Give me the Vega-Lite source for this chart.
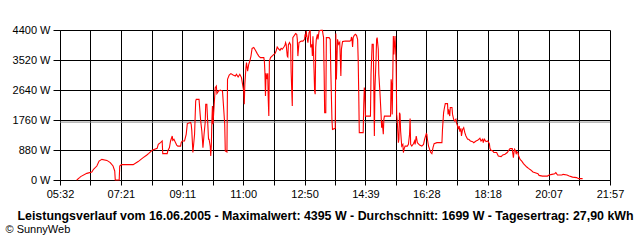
{
  "$schema": "https://vega.github.io/schema/vega-lite/v6.json",
  "width": 550,
  "height": 150,
  "autosize": {"type": "none"},
  "padding": {"left": 60, "top": 30, "right": 30, "bottom": 60},
  "background": "white",
  "config": {
    "view": {"stroke": null},
    "font": "Liberation Sans",
    "axis": {
      "domainColor": "black", "tickColor": "black", "gridColor": "black", "gridOpacity": 1,
      "gridWidth": 1, "domainWidth": 1, "tickWidth": 1,
      "labelColor": "black", "labelFont": "Liberation Sans", "labelFontSize": 11, "labelFontWeight": "normal",
      "titleColor": "black", "titleFont": "Liberation Sans", "labelOverlap": false
    }
  },
  "layer": [
    {
      "data": {"values": [{"watt": 1699}]},
      "mark": {"type": "rule", "color": "#8a8a8a", "strokeWidth": 1},
      "encoding": {"y": {"field": "watt", "type": "quantitative"}}
    },
    {
      "data": {"values": [
        {"time": "2005-06-16 06:02", "watt": 0},
        {"time": "2005-06-16 06:07", "watt": 70},
        {"time": "2005-06-16 06:09", "watt": 100},
        {"time": "2005-06-16 06:20", "watt": 195},
        {"time": "2005-06-16 06:29", "watt": 235},
        {"time": "2005-06-16 06:32", "watt": 315},
        {"time": "2005-06-16 06:38", "watt": 410},
        {"time": "2005-06-16 06:42", "watt": 555},
        {"time": "2005-06-16 06:47", "watt": 605},
        {"time": "2005-06-16 06:56", "watt": 575},
        {"time": "2005-06-16 07:02", "watt": 510},
        {"time": "2005-06-16 07:07", "watt": 410},
        {"time": "2005-06-16 07:10", "watt": 265},
        {"time": "2005-06-16 07:11", "watt": 0},
        {"time": "2005-06-16 07:18", "watt": 0},
        {"time": "2005-06-16 07:19", "watt": 410},
        {"time": "2005-06-16 07:22", "watt": 450},
        {"time": "2005-06-16 07:43", "watt": 450},
        {"time": "2005-06-16 07:52", "watt": 540},
        {"time": "2005-06-16 07:57", "watt": 605},
        {"time": "2005-06-16 08:01", "watt": 655},
        {"time": "2005-06-16 08:07", "watt": 725},
        {"time": "2005-06-16 08:11", "watt": 780},
        {"time": "2005-06-16 08:17", "watt": 870},
        {"time": "2005-06-16 08:26", "watt": 930},
        {"time": "2005-06-16 08:28", "watt": 1045},
        {"time": "2005-06-16 08:32", "watt": 1095},
        {"time": "2005-06-16 08:35", "watt": 1145},
        {"time": "2005-06-16 08:36", "watt": 775},
        {"time": "2005-06-16 08:44", "watt": 775},
        {"time": "2005-06-16 08:45", "watt": 850},
        {"time": "2005-06-16 08:48", "watt": 950},
        {"time": "2005-06-16 08:50", "watt": 1145},
        {"time": "2005-06-16 08:53", "watt": 1290},
        {"time": "2005-06-16 08:54", "watt": 1165},
        {"time": "2005-06-16 08:56", "watt": 1195},
        {"time": "2005-06-16 08:59", "watt": 1095},
        {"time": "2005-06-16 09:01", "watt": 1025},
        {"time": "2005-06-16 09:03", "watt": 995},
        {"time": "2005-06-16 09:08", "watt": 995},
        {"time": "2005-06-16 09:09", "watt": 1095},
        {"time": "2005-06-16 09:11", "watt": 1145},
        {"time": "2005-06-16 09:15", "watt": 1145},
        {"time": "2005-06-16 09:18", "watt": 1340},
        {"time": "2005-06-16 09:20", "watt": 1655},
        {"time": "2005-06-16 09:26", "watt": 1685},
        {"time": "2005-06-16 09:27", "watt": 1635},
        {"time": "2005-06-16 09:28", "watt": 1455},
        {"time": "2005-06-16 09:30", "watt": 805},
        {"time": "2005-06-16 09:33", "watt": 1340},
        {"time": "2005-06-16 09:35", "watt": 2315},
        {"time": "2005-06-16 09:36", "watt": 2365},
        {"time": "2005-06-16 09:41", "watt": 2365},
        {"time": "2005-06-16 09:43", "watt": 1925},
        {"time": "2005-06-16 09:44", "watt": 1730},
        {"time": "2005-06-16 09:46", "watt": 1435},
        {"time": "2005-06-16 09:47", "watt": 1195},
        {"time": "2005-06-16 09:48", "watt": 950},
        {"time": "2005-06-16 09:50", "watt": 1340},
        {"time": "2005-06-16 09:52", "watt": 1685},
        {"time": "2005-06-16 09:53", "watt": 2220},
        {"time": "2005-06-16 09:55", "watt": 2220},
        {"time": "2005-06-16 09:57", "watt": 1535},
        {"time": "2005-06-16 09:58", "watt": 1195},
        {"time": "2005-06-16 09:59", "watt": 1195},
        {"time": "2005-06-16 10:01", "watt": 995},
        {"time": "2005-06-16 10:02", "watt": 705},
        {"time": "2005-06-16 10:03", "watt": 995},
        {"time": "2005-06-16 10:04", "watt": 1730},
        {"time": "2005-06-16 10:05", "watt": 2170},
        {"time": "2005-06-16 10:06", "watt": 1635},
        {"time": "2005-06-16 10:08", "watt": 2170},
        {"time": "2005-06-16 10:10", "watt": 2710},
        {"time": "2005-06-16 10:12", "watt": 2755},
        {"time": "2005-06-16 10:13", "watt": 2535},
        {"time": "2005-06-16 10:16", "watt": 2610},
        {"time": "2005-06-16 10:19", "watt": 2640},
        {"time": "2005-06-16 10:23", "watt": 2610},
        {"time": "2005-06-16 10:25", "watt": 2125},
        {"time": "2005-06-16 10:27", "watt": 1635},
        {"time": "2005-06-16 10:28", "watt": 850},
        {"time": "2005-06-16 10:31", "watt": 820},
        {"time": "2005-06-16 10:32", "watt": 2955},
        {"time": "2005-06-16 10:35", "watt": 3080},
        {"time": "2005-06-16 10:38", "watt": 3120},
        {"time": "2005-06-16 10:42", "watt": 3080},
        {"time": "2005-06-16 10:46", "watt": 3050},
        {"time": "2005-06-16 10:48", "watt": 3100},
        {"time": "2005-06-16 10:51", "watt": 3020},
        {"time": "2005-06-16 10:54", "watt": 3100},
        {"time": "2005-06-16 10:57", "watt": 3005},
        {"time": "2005-06-16 10:59", "watt": 2805},
        {"time": "2005-06-16 11:01", "watt": 2610},
        {"time": "2005-06-16 11:02", "watt": 2220},
        {"time": "2005-06-16 11:03", "watt": 2805},
        {"time": "2005-06-16 11:05", "watt": 3295},
        {"time": "2005-06-16 11:06", "watt": 3445},
        {"time": "2005-06-16 11:08", "watt": 3195},
        {"time": "2005-06-16 11:10", "watt": 3395},
        {"time": "2005-06-16 11:12", "watt": 3490},
        {"time": "2005-06-16 11:14", "watt": 3635},
        {"time": "2005-06-16 11:16", "watt": 3860},
        {"time": "2005-06-16 11:19", "watt": 3885},
        {"time": "2005-06-16 11:22", "watt": 3805},
        {"time": "2005-06-16 11:25", "watt": 3715},
        {"time": "2005-06-16 11:28", "watt": 3635},
        {"time": "2005-06-16 11:31", "watt": 3590},
        {"time": "2005-06-16 11:37", "watt": 3590},
        {"time": "2005-06-16 11:38", "watt": 3490},
        {"time": "2005-06-16 11:39", "watt": 3150},
        {"time": "2005-06-16 11:40", "watt": 2465},
        {"time": "2005-06-16 11:41", "watt": 3130},
        {"time": "2005-06-16 11:43", "watt": 2955},
        {"time": "2005-06-16 11:44", "watt": 3130},
        {"time": "2005-06-16 11:45", "watt": 2335},
        {"time": "2005-06-16 11:46", "watt": 1875},
        {"time": "2005-06-16 11:47", "watt": 3480},
        {"time": "2005-06-16 11:49", "watt": 3590},
        {"time": "2005-06-16 11:55", "watt": 3685},
        {"time": "2005-06-16 11:57", "watt": 3705},
        {"time": "2005-06-16 11:59", "watt": 3785},
        {"time": "2005-06-16 12:01", "watt": 3900},
        {"time": "2005-06-16 12:04", "watt": 3835},
        {"time": "2005-06-16 12:06", "watt": 3805},
        {"time": "2005-06-16 12:08", "watt": 3860},
        {"time": "2005-06-16 12:10", "watt": 3835},
        {"time": "2005-06-16 12:13", "watt": 3900},
        {"time": "2005-06-16 12:15", "watt": 3960},
        {"time": "2005-06-16 12:16", "watt": 4030},
        {"time": "2005-06-16 12:17", "watt": 3980},
        {"time": "2005-06-16 12:19", "watt": 3635},
        {"time": "2005-06-16 12:20", "watt": 3610},
        {"time": "2005-06-16 12:21", "watt": 3960},
        {"time": "2005-06-16 12:23", "watt": 4030},
        {"time": "2005-06-16 12:25", "watt": 3960},
        {"time": "2005-06-16 12:26", "watt": 3150},
        {"time": "2005-06-16 12:28", "watt": 2170},
        {"time": "2005-06-16 12:29", "watt": 4175},
        {"time": "2005-06-16 12:31", "watt": 4225},
        {"time": "2005-06-16 12:34", "watt": 4295},
        {"time": "2005-06-16 12:36", "watt": 4275},
        {"time": "2005-06-16 12:37", "watt": 4125},
        {"time": "2005-06-16 12:38", "watt": 3635},
        {"time": "2005-06-16 12:40", "watt": 4030},
        {"time": "2005-06-16 12:44", "watt": 4075},
        {"time": "2005-06-16 12:47", "watt": 4075},
        {"time": "2005-06-16 12:50", "watt": 4125},
        {"time": "2005-06-16 12:51", "watt": 4275},
        {"time": "2005-06-16 12:52", "watt": 4195},
        {"time": "2005-06-16 12:53", "watt": 4370},
        {"time": "2005-06-16 12:54", "watt": 4225},
        {"time": "2005-06-16 12:56", "watt": 4030},
        {"time": "2005-06-16 12:58", "watt": 4325},
        {"time": "2005-06-16 13:00", "watt": 4395},
        {"time": "2005-06-16 13:01", "watt": 3890},
        {"time": "2005-06-16 13:03", "watt": 3980},
        {"time": "2005-06-16 13:04", "watt": 3635},
        {"time": "2005-06-16 13:05", "watt": 4215},
        {"time": "2005-06-16 13:06", "watt": 3785},
        {"time": "2005-06-16 13:08", "watt": 2610},
        {"time": "2005-06-16 13:09", "watt": 2515},
        {"time": "2005-06-16 13:10", "watt": 3885},
        {"time": "2005-06-16 13:11", "watt": 4125},
        {"time": "2005-06-16 13:13", "watt": 4275},
        {"time": "2005-06-16 13:14", "watt": 4125},
        {"time": "2005-06-16 13:16", "watt": 4370},
        {"time": "2005-06-16 13:19", "watt": 4390},
        {"time": "2005-06-16 13:22", "watt": 4390},
        {"time": "2005-06-16 13:23", "watt": 4275},
        {"time": "2005-06-16 13:24", "watt": 4185},
        {"time": "2005-06-16 13:25", "watt": 3195},
        {"time": "2005-06-16 13:26", "watt": 1975},
        {"time": "2005-06-16 13:28", "watt": 1975},
        {"time": "2005-06-16 13:29", "watt": 4175},
        {"time": "2005-06-16 13:31", "watt": 4175},
        {"time": "2005-06-16 13:34", "watt": 4175},
        {"time": "2005-06-16 13:36", "watt": 4125},
        {"time": "2005-06-16 13:37", "watt": 3195},
        {"time": "2005-06-16 13:39", "watt": 1780},
        {"time": "2005-06-16 13:40", "watt": 1485},
        {"time": "2005-06-16 13:45", "watt": 1515},
        {"time": "2005-06-16 13:46", "watt": 4295},
        {"time": "2005-06-16 13:47", "watt": 2950},
        {"time": "2005-06-16 13:49", "watt": 4125},
        {"time": "2005-06-16 13:51", "watt": 3980},
        {"time": "2005-06-16 13:53", "watt": 4040},
        {"time": "2005-06-16 13:55", "watt": 3050},
        {"time": "2005-06-16 13:56", "watt": 3835},
        {"time": "2005-06-16 13:58", "watt": 4060},
        {"time": "2005-06-16 14:03", "watt": 4075},
        {"time": "2005-06-16 14:11", "watt": 4075},
        {"time": "2005-06-16 14:13", "watt": 4095},
        {"time": "2005-06-16 14:14", "watt": 4195},
        {"time": "2005-06-16 14:15", "watt": 4125},
        {"time": "2005-06-16 14:16", "watt": 3900},
        {"time": "2005-06-16 14:17", "watt": 4175},
        {"time": "2005-06-16 14:19", "watt": 4245},
        {"time": "2005-06-16 14:21", "watt": 4275},
        {"time": "2005-06-16 14:23", "watt": 4245},
        {"time": "2005-06-16 14:25", "watt": 4125},
        {"time": "2005-06-16 14:26", "watt": 3540},
        {"time": "2005-06-16 14:27", "watt": 2565},
        {"time": "2005-06-16 14:28", "watt": 1390},
        {"time": "2005-06-16 14:35", "watt": 1390},
        {"time": "2005-06-16 14:36", "watt": 2220},
        {"time": "2005-06-16 14:37", "watt": 2710},
        {"time": "2005-06-16 14:38", "watt": 2600},
        {"time": "2005-06-16 14:39", "watt": 1875},
        {"time": "2005-06-16 14:48", "watt": 1875},
        {"time": "2005-06-16 14:49", "watt": 3100},
        {"time": "2005-06-16 14:51", "watt": 3980},
        {"time": "2005-06-16 14:53", "watt": 3980},
        {"time": "2005-06-16 14:54", "watt": 2805},
        {"time": "2005-06-16 14:55", "watt": 1290},
        {"time": "2005-06-16 14:56", "watt": 2660},
        {"time": "2005-06-16 14:58", "watt": 3540},
        {"time": "2005-06-16 14:59", "watt": 4125},
        {"time": "2005-06-16 15:00", "watt": 4175},
        {"time": "2005-06-16 15:02", "watt": 3835},
        {"time": "2005-06-16 15:03", "watt": 3100},
        {"time": "2005-06-16 15:05", "watt": 2565},
        {"time": "2005-06-16 15:07", "watt": 1925},
        {"time": "2005-06-16 15:08", "watt": 1535},
        {"time": "2005-06-16 15:09", "watt": 1730},
        {"time": "2005-06-16 15:11", "watt": 1340},
        {"time": "2005-06-16 15:12", "watt": 1780},
        {"time": "2005-06-16 15:13", "watt": 1875},
        {"time": "2005-06-16 15:24", "watt": 1875},
        {"time": "2005-06-16 15:25", "watt": 2955},
        {"time": "2005-06-16 15:26", "watt": 2805},
        {"time": "2005-06-16 15:27", "watt": 1925},
        {"time": "2005-06-16 15:29", "watt": 4225},
        {"time": "2005-06-16 15:30", "watt": 3685},
        {"time": "2005-06-16 15:31", "watt": 3980},
        {"time": "2005-06-16 15:32", "watt": 4225},
        {"time": "2005-06-16 15:33", "watt": 3835},
        {"time": "2005-06-16 15:34", "watt": 3395},
        {"time": "2005-06-16 15:35", "watt": 1925},
        {"time": "2005-06-16 15:36", "watt": 1730},
        {"time": "2005-06-16 15:38", "watt": 1095},
        {"time": "2005-06-16 15:39", "watt": 1195},
        {"time": "2005-06-16 15:40", "watt": 1975},
        {"time": "2005-06-16 15:41", "watt": 1925},
        {"time": "2005-06-16 15:42", "watt": 1435},
        {"time": "2005-06-16 15:44", "watt": 995},
        {"time": "2005-06-16 15:46", "watt": 1045},
        {"time": "2005-06-16 15:47", "watt": 805},
        {"time": "2005-06-16 15:48", "watt": 900},
        {"time": "2005-06-16 15:50", "watt": 995},
        {"time": "2005-06-16 15:54", "watt": 995},
        {"time": "2005-06-16 15:56", "watt": 1045},
        {"time": "2005-06-16 15:58", "watt": 1340},
        {"time": "2005-06-16 15:59", "watt": 1800},
        {"time": "2005-06-16 16:00", "watt": 1045},
        {"time": "2005-06-16 16:02", "watt": 995},
        {"time": "2005-06-16 16:05", "watt": 1065},
        {"time": "2005-06-16 16:07", "watt": 1145},
        {"time": "2005-06-16 16:08", "watt": 1045},
        {"time": "2005-06-16 16:10", "watt": 1290},
        {"time": "2005-06-16 16:12", "watt": 1095},
        {"time": "2005-06-16 16:16", "watt": 1025},
        {"time": "2005-06-16 16:20", "watt": 995},
        {"time": "2005-06-16 16:23", "watt": 1045},
        {"time": "2005-06-16 16:25", "watt": 1195},
        {"time": "2005-06-16 16:28", "watt": 1360},
        {"time": "2005-06-16 16:29", "watt": 1340},
        {"time": "2005-06-16 16:30", "watt": 1195},
        {"time": "2005-06-16 16:32", "watt": 995},
        {"time": "2005-06-16 16:34", "watt": 900},
        {"time": "2005-06-16 16:36", "watt": 805},
        {"time": "2005-06-16 16:38", "watt": 775},
        {"time": "2005-06-16 16:40", "watt": 950},
        {"time": "2005-06-16 16:42", "watt": 1065},
        {"time": "2005-06-16 16:47", "watt": 1095},
        {"time": "2005-06-16 16:56", "watt": 1095},
        {"time": "2005-06-16 16:57", "watt": 1485},
        {"time": "2005-06-16 16:59", "watt": 1975},
        {"time": "2005-06-16 17:00", "watt": 2075},
        {"time": "2005-06-16 17:02", "watt": 2240},
        {"time": "2005-06-16 17:06", "watt": 2240},
        {"time": "2005-06-16 17:07", "watt": 1925},
        {"time": "2005-06-16 17:08", "watt": 2075},
        {"time": "2005-06-16 17:10", "watt": 1875},
        {"time": "2005-06-16 17:11", "watt": 2125},
        {"time": "2005-06-16 17:14", "watt": 2125},
        {"time": "2005-06-16 17:15", "watt": 1925},
        {"time": "2005-06-16 17:17", "watt": 1780},
        {"time": "2005-06-16 17:19", "watt": 1730},
        {"time": "2005-06-16 17:21", "watt": 1780},
        {"time": "2005-06-16 17:22", "watt": 1685},
        {"time": "2005-06-16 17:24", "watt": 1585},
        {"time": "2005-06-16 17:25", "watt": 1485},
        {"time": "2005-06-16 17:27", "watt": 1585},
        {"time": "2005-06-16 17:28", "watt": 1420},
        {"time": "2005-06-16 17:30", "watt": 1515},
        {"time": "2005-06-16 17:31", "watt": 1290},
        {"time": "2005-06-16 17:33", "watt": 1485},
        {"time": "2005-06-16 17:35", "watt": 1535},
        {"time": "2005-06-16 17:37", "watt": 1390},
        {"time": "2005-06-16 17:39", "watt": 1290},
        {"time": "2005-06-16 17:42", "watt": 1195},
        {"time": "2005-06-16 17:44", "watt": 1195},
        {"time": "2005-06-16 17:47", "watt": 1145},
        {"time": "2005-06-16 17:51", "watt": 1125},
        {"time": "2005-06-16 17:53", "watt": 1095},
        {"time": "2005-06-16 17:57", "watt": 1145},
        {"time": "2005-06-16 18:00", "watt": 1165},
        {"time": "2005-06-16 18:04", "watt": 1225},
        {"time": "2005-06-16 18:06", "watt": 1145},
        {"time": "2005-06-16 18:09", "watt": 1195},
        {"time": "2005-06-16 18:10", "watt": 1095},
        {"time": "2005-06-16 18:12", "watt": 1195},
        {"time": "2005-06-16 18:15", "watt": 1125},
        {"time": "2005-06-16 18:18", "watt": 1145},
        {"time": "2005-06-16 18:21", "watt": 1065},
        {"time": "2005-06-16 18:22", "watt": 930},
        {"time": "2005-06-16 18:24", "watt": 870},
        {"time": "2005-06-16 18:27", "watt": 850},
        {"time": "2005-06-16 18:29", "watt": 805},
        {"time": "2005-06-16 18:34", "watt": 805},
        {"time": "2005-06-16 18:37", "watt": 705},
        {"time": "2005-06-16 18:42", "watt": 685},
        {"time": "2005-06-16 18:45", "watt": 735},
        {"time": "2005-06-16 18:49", "watt": 755},
        {"time": "2005-06-16 18:53", "watt": 805},
        {"time": "2005-06-16 18:56", "watt": 880},
        {"time": "2005-06-16 18:58", "watt": 920},
        {"time": "2005-06-16 19:02", "watt": 920},
        {"time": "2005-06-16 19:03", "watt": 775},
        {"time": "2005-06-16 19:04", "watt": 655},
        {"time": "2005-06-16 19:05", "watt": 805},
        {"time": "2005-06-16 19:06", "watt": 900},
        {"time": "2005-06-16 19:08", "watt": 850},
        {"time": "2005-06-16 19:09", "watt": 755},
        {"time": "2005-06-16 19:10", "watt": 830},
        {"time": "2005-06-16 19:12", "watt": 805},
        {"time": "2005-06-16 19:13", "watt": 725},
        {"time": "2005-06-16 19:16", "watt": 605},
        {"time": "2005-06-16 19:19", "watt": 555},
        {"time": "2005-06-16 19:22", "watt": 480},
        {"time": "2005-06-16 19:25", "watt": 430},
        {"time": "2005-06-16 19:28", "watt": 380},
        {"time": "2005-06-16 19:31", "watt": 340},
        {"time": "2005-06-16 19:35", "watt": 295},
        {"time": "2005-06-16 19:39", "watt": 235},
        {"time": "2005-06-16 19:43", "watt": 215},
        {"time": "2005-06-16 19:48", "watt": 185},
        {"time": "2005-06-16 19:50", "watt": 135},
        {"time": "2005-06-16 19:56", "watt": 115},
        {"time": "2005-06-16 20:05", "watt": 115},
        {"time": "2005-06-16 20:08", "watt": 145},
        {"time": "2005-06-16 20:13", "watt": 165},
        {"time": "2005-06-16 20:18", "watt": 185},
        {"time": "2005-06-16 20:20", "watt": 215},
        {"time": "2005-06-16 20:23", "watt": 145},
        {"time": "2005-06-16 20:31", "watt": 145},
        {"time": "2005-06-16 20:33", "watt": 165},
        {"time": "2005-06-16 20:40", "watt": 145},
        {"time": "2005-06-16 20:44", "watt": 115},
        {"time": "2005-06-16 20:50", "watt": 85},
        {"time": "2005-06-16 20:57", "watt": 70},
        {"time": "2005-06-16 21:01", "watt": 40},
        {"time": "2005-06-16 21:08", "watt": 40}
      ]},
      "mark": {"type": "line", "color": "#ff0000", "strokeWidth": 1.1, "interpolate": "linear"},
      "encoding": {
        "x": {
          "field": "time", "type": "temporal",
          "scale": {"domain": [
            {"year": 2005, "month": 6, "date": 16, "hours": 5, "minutes": 32},
            {"year": 2005, "month": 6, "date": 16, "hours": 21, "minutes": 57}
          ]},
          "axis": {
            "values": [
              {"year": 2005, "month": 6, "date": 16, "hours": 5, "minutes": 32},
              {"year": 2005, "month": 6, "date": 16, "hours": 6, "minutes": 26, "seconds": 30},
              {"year": 2005, "month": 6, "date": 16, "hours": 7, "minutes": 21},
              {"year": 2005, "month": 6, "date": 16, "hours": 8, "minutes": 16, "seconds": 1},
              {"year": 2005, "month": 6, "date": 16, "hours": 9, "minutes": 11},
              {"year": 2005, "month": 6, "date": 16, "hours": 10, "minutes": 5, "seconds": 30},
              {"year": 2005, "month": 6, "date": 16, "hours": 11, "minutes": 0},
              {"year": 2005, "month": 6, "date": 16, "hours": 11, "minutes": 55, "seconds": 1},
              {"year": 2005, "month": 6, "date": 16, "hours": 12, "minutes": 50},
              {"year": 2005, "month": 6, "date": 16, "hours": 13, "minutes": 44, "seconds": 30},
              {"year": 2005, "month": 6, "date": 16, "hours": 14, "minutes": 39},
              {"year": 2005, "month": 6, "date": 16, "hours": 15, "minutes": 33, "seconds": 30},
              {"year": 2005, "month": 6, "date": 16, "hours": 16, "minutes": 28},
              {"year": 2005, "month": 6, "date": 16, "hours": 17, "minutes": 23, "seconds": 1},
              {"year": 2005, "month": 6, "date": 16, "hours": 18, "minutes": 18},
              {"year": 2005, "month": 6, "date": 16, "hours": 19, "minutes": 12, "seconds": 30},
              {"year": 2005, "month": 6, "date": 16, "hours": 20, "minutes": 7},
              {"year": 2005, "month": 6, "date": 16, "hours": 21, "minutes": 2, "seconds": 1},
              {"year": 2005, "month": 6, "date": 16, "hours": 21, "minutes": 57}
            ],
            "tickCount": 100,
            "labelExpr": "seconds(datum.value) == 0 ? timeFormat(datum.value, '%H:%M') : ''",
            "grid": true,
            "tickSize": 5,
            "labelPadding": 3,
            "labelFlush": false,
            "labelOverlap": false,
            "title": "Leistungsverlauf vom 16.06.2005 - Maximalwert: 4395 W - Durchschnitt: 1699 W - Tagesertrag: 27,90 kWh",
            "titleX": 265,
            "titleY": 39,
            "titleAlign": "center",
            "titleAnchor": null,
            "titleBaseline": "alphabetic",
            "titleFontSize": 12.4,
            "titleFontWeight": "bold"
          }
        },
        "y": {
          "field": "watt", "type": "quantitative",
          "scale": {"domain": [0, 4400], "nice": false, "zero": true},
          "axis": {
            "values": [0, 880, 1760, 2640, 3520, 4400],
            "tickCount": 100,
            "labelExpr": "datum.value + ' W'",
            "grid": true,
            "tickSize": 7,
            "labelPadding": 3,
            "labelOverlap": false,
            "labelFlush": false,
            "title": "© SunnyWeb",
            "titleAngle": 0,
            "titleX": -55,
            "titleY": 202,
            "titleAlign": "left",
            "titleBaseline": "alphabetic",
            "titleFontSize": 11,
            "titleFontWeight": "normal"
          }
        },
        "order": {"value": null}
      }
    }
  ]
}
